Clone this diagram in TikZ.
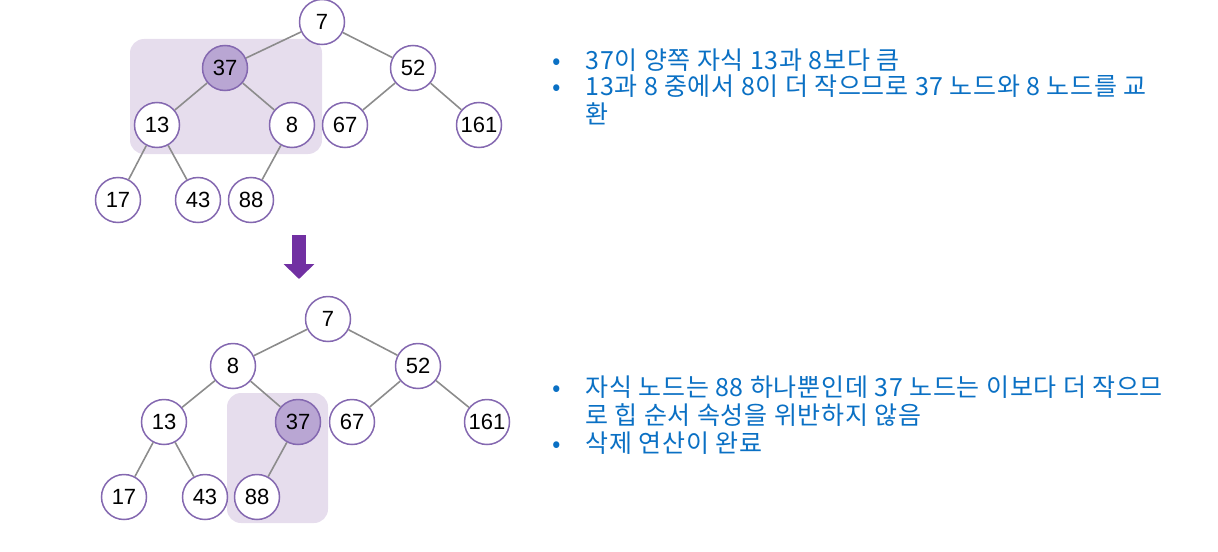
\documentclass[tikz,border=0pt]{standalone}
\usepackage{fontspec}
\setmainfont{Liberation Sans}
\newfontfamily\kor[LetterSpace=3]{Noto Sans CJK KR}
\usetikzlibrary{arrows.meta}

\definecolor{keyline}{HTML}{8468B0}
\definecolor{hotfill}{HTML}{B9A6D3}
\definecolor{boxfill}{HTML}{E6DDED}
\definecolor{edgegray}{HTML}{8C8C8C}
\definecolor{downpurple}{HTML}{7130A2}
\definecolor{noteblue}{HTML}{0A70C4}

\tikzset{
  key/.style={circle, draw=keyline, line width=0.75pt, fill=white, minimum size=22.5pt, inner sep=0pt, font=\fontsize{11}{13}\selectfont},
  hot/.style={key, fill=hotfill},
  edge/.style={edgegray, line width=0.8pt},
  note/.style={text=noteblue, font=\kor\fontsize{12.5}{14}\selectfont, anchor=west, inner sep=0pt, text height=0.9em, text depth=0.2em},
  dot/.style={note, anchor=center}
}

\begin{document}
\begin{tikzpicture}[x=0.5pt, y=-0.5pt]
\useasboundingbox (0,0) rectangle (1218,551);

\fill[boxfill, rounded corners=7pt] (130,39) rectangle (322,154);
\fill[boxfill, rounded corners=7pt] (227,393) rectangle (328,523);

\node[key] (a7) at (322,22) {7};
\node[hot] (a37) at (225,68) {37};
\node[key] (a52) at (413,68) {52};
\node[key] (a13) at (157,125) {13};
\node[key] (a8) at (292,125) {8};
\node[key] (a67) at (345,125) {67};
\node[key] (a161) at (479,125) {161};
\node[key] (a17) at (118,200) {17};
\node[key] (a43) at (198,200) {43};
\node[key] (a88) at (251,200) {88};

\draw[edge] (a7) -- (a37);
\draw[edge] (a7) -- (a52);
\draw[edge] (a37) -- (a13);
\draw[edge] (a37) -- (a8);
\draw[edge] (a52) -- (a67);
\draw[edge] (a52) -- (a161);
\draw[edge] (a13) -- (a17);
\draw[edge] (a13) -- (a43);
\draw[edge] (a8) -- (a88);

\coordinate (dtop) at (299,235);
\coordinate (dbot) at (299,279);
\draw[downpurple, line width=7pt, -{Triangle[width=15pt,length=7.5pt]}] (dtop) -- (dbot);

\node[key] (b7) at (328,319) {7};
\node[key] (b8) at (233,366) {8};
\node[key] (b52) at (418,366) {52};
\node[key] (b13) at (164,422) {13};
\node[hot] (b37) at (298,422) {37};
\node[key] (b67) at (352,422) {67};
\node[key] (b161) at (487,422) {161};
\node[key] (b17) at (124,497) {17};
\node[key] (b43) at (205,497) {43};
\node[key] (b88) at (257,497) {88};

\draw[edge] (b7) -- (b8);
\draw[edge] (b7) -- (b52);
\draw[edge] (b8) -- (b13);
\draw[edge] (b8) -- (b37);
\draw[edge] (b52) -- (b67);
\draw[edge] (b52) -- (b161);
\draw[edge] (b13) -- (b17);
\draw[edge] (b13) -- (b43);
\draw[edge] (b37) -- (b88);

\node[dot] (d1) at (557,62) {•};
\node[note] (n1) at (585,62) {37이 양쪽 자식 13과 8보다 큼};
\node[dot] (d2) at (557,89) {•};
\node[note] (n2) at (585,89) {13과 8 중에서 8이 더 작으므로 37 노드와 8 노드를 교};
\node[note] (n2b) at (585,116) {환};

\node[dot] (d3) at (557,389) {•};
\node[note] (n3) at (585,389) {자식 노드는 88 하나뿐인데 37 노드는 이보다 더 작으므};
\node[note] (n3b) at (585,417) {로 힙 순서 속성을 위반하지 않음};
\node[dot] (d4) at (557,445) {•};
\node[note] (n4) at (585,445) {삭제 연산이 완료};
\end{tikzpicture}
\end{document}
